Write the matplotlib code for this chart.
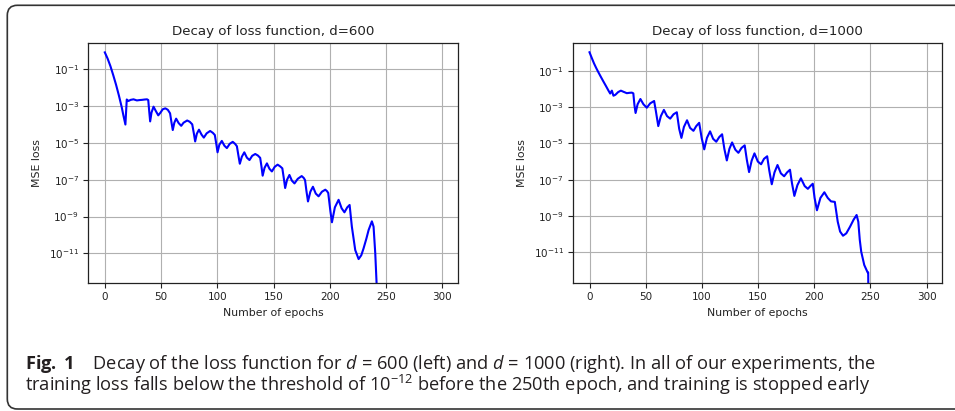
import numpy as np
import matplotlib
matplotlib.use("Agg")
import matplotlib.pyplot as plt
from matplotlib.patches import FancyBboxPatch
from matplotlib.ticker import FixedLocator, NullLocator

# ---------------- data (losses stored as log10) ----------------
epochs_d600 = [0, 2.5, 5, 7.5, 10, 12.5, 15, 16.5, 18.3, 19.5, 21, 23, 25.5, 28.5, 31, 33, 35.5, 37.5, 38.6,
               39.5, 40.3, 41.5, 43.3, 45.2, 47.5, 49.5, 51.5, 53.8, 56, 58, 59.3,
               60.4, 61.8, 63.4, 65.6, 67.9, 70, 73.2, 75.5, 77.7, 79.2,
               80.3, 81.8, 83.7, 86, 88, 90.5, 93.6, 96, 97.8, 99.2,
               100.2, 101.8, 104, 106.3, 108.5, 111, 113.7, 115.8, 117.4, 118.8,
               120, 121.8, 124, 126.3, 128.6, 131, 133.7, 136, 138.1, 139.3,
               140.3, 142, 144.1, 146.3, 148.5, 151, 153.6, 155.8, 157.8, 159.3,
               160.3, 162, 164.1, 166.3, 168.6, 171.5, 175, 176.8, 178, 179.2,
               180.6, 182.7, 185, 187.5, 190, 193, 196, 197.5, 198.6, 200.5,
               201.9, 204.5, 207.8, 210.5, 213, 215.5, 217.6, 219.6, 222.6, 225.6, 228, 230,
               232.5, 234.5, 237.4, 238.9, 240.4, 242]
log10_loss_d600 = [-0.08, -0.42, -0.83, -1.32, -1.84, -2.42, -3.05, -3.5, -4.0, -2.64, -2.72, -2.66, -2.63, -2.69, -2.67, -2.66, -2.64, -2.63, -2.67,
                   -3.3, -3.83, -3.35, -3.03, -3.25, -3.5, -3.35, -3.17, -3.12, -3.2, -3.39, -3.9,
                   -4.3, -3.9, -3.68, -3.92, -4.07, -3.9, -3.78, -3.85, -3.99, -4.5,
                   -4.92, -4.5, -4.28, -4.55, -4.71, -4.48, -4.35, -4.45, -4.57, -5.1,
                   -5.51, -5.1, -4.89, -5.15, -5.28, -5.05, -4.94, -5.05, -5.18, -5.7,
                   -6.13, -5.75, -5.51, -5.8, -5.93, -5.7, -5.6, -5.68, -5.81, -6.3,
                   -6.78, -6.35, -6.11, -6.4, -6.55, -6.3, -6.18, -6.27, -6.38, -7.0,
                   -7.45, -7.0, -6.74, -7.05, -7.2, -6.95, -6.8, -6.9, -7.02, -7.6,
                   -8.18, -7.65, -7.38, -7.75, -7.9, -7.65, -7.54, -7.62, -7.72, -8.7,
                   -9.31, -8.5, -8.09, -8.55, -8.77, -8.5, -8.37, -9.55, -10.82, -11.31, -11.1, -10.73,
                   -10.2, -9.73, -9.26, -9.55, -11.0, -13.2]

epochs_d1000 = [0, 2, 4, 6, 8, 10, 12.4, 14.5, 16.9, 18.4, 19.9, 21.3, 23, 25.5, 27.9, 30.5, 33.2, 35.5, 37.7, 39,
                40, 41, 42.8, 45.3, 48, 51, 54, 57.5, 59,
                61.2, 63.5, 66.2, 69, 71.8, 74.8, 77.7, 79.8,
                81.8, 84, 86.8, 89.5, 92.5, 95, 97.6, 99.8,
                102.1, 104.5, 107.3, 110, 112.8, 115.5, 118, 120,
                122.2, 124.5, 126.9, 129.8, 132.5, 135.3, 138.1, 140,
                142, 144.3, 146.8, 149.8, 152.7, 155.3, 158.1, 160,
                162.2, 164.6, 167.3, 170.3, 173.2, 175.8, 178.4, 180.2,
                182.3, 185, 188.1, 191.5, 194.3, 196.5, 198.7, 200.3,
                202.4, 205.5, 209, 212, 214.9, 218.3, 220.9, 223, 225.6, 228.5, 231.8, 235, 237.7,
                239.2, 240.5, 241.8, 244.5, 247.5, 248, 248.2]
log10_loss_d1000 = [0.01, -0.3, -0.6, -0.86, -1.1, -1.33, -1.6, -1.83, -2.1, -2.26, -2.1, -2.38, -2.33, -2.18, -2.1, -2.17, -2.24, -2.22, -2.21, -2.25,
                    -2.9, -3.33, -2.85, -2.56, -2.85, -3.04, -2.8, -2.67, -3.2,
                    -4.05, -3.5, -3.16, -3.5, -3.64, -3.4, -3.29, -4.2,
                    -4.7, -4.1, -3.73, -4.15, -4.31, -4.05, -3.87, -4.7,
                    -5.33, -4.7, -4.34, -4.75, -4.91, -4.65, -4.5, -5.3,
                    -5.94, -5.3, -4.95, -5.35, -5.52, -5.25, -5.11, -5.9,
                    -6.58, -5.95, -5.55, -6.0, -6.15, -5.85, -5.71, -6.5,
                    -7.25, -6.6, -6.19, -6.65, -6.81, -6.6, -6.45, -7.2,
                    -7.89, -7.3, -6.92, -7.35, -7.5, -7.35, -7.22, -8.0,
                    -8.68, -8.0, -7.69, -8.0, -8.19, -8.22, -9.31, -9.85, -10.08, -9.95, -9.59, -9.2, -8.94,
                    -9.31, -10.3, -10.96, -11.69, -12.1, -12.1, -13.5]

titles = ["Decay of loss function, d=600", "Decay of loss function, d=1000"]
xlabel = "Number of epochs"
ylabel = "MSE loss"
xtick_values = [0, 50, 100, 150, 200, 250, 300]
ytick_exponents = [-1, -3, -5, -7, -9, -11]
caption_tag = r"$\mathbf{Fig.\;1}\quad\,$"
caption_line1 = "Decay of the loss function for $d$ = 600 (left) and $d$ = 1000 (right). In all of our experiments, the"
caption_line2 = "training loss falls below the threshold of $10^{-12}$ before the 250th epoch, and training is stopped early"

# ---------------- figure ----------------
W, H = 955, 411
fig = plt.figure(figsize=(W / 100, H / 100), dpi=100)
fig.patch.set_facecolor("white")


def px_axes(x0, y0, x1, y1):
    return fig.add_axes([x0 / W, 1 - y1 / H, (x1 - x0) / W, (y1 - y0) / H])


ax1 = px_axes(88, 43, 458, 283)
ax2 = px_axes(572.7, 43, 942.3, 283)

series = [(ax1, epochs_d600, log10_loss_d600, (-12.61, 0.43)),
          (ax2, epochs_d1000, log10_loss_d1000, (-12.68, 0.52))]

txt_color = "#222222"
for (ax, ep, lg, (lo, hi)), title in zip(series, titles):
    ax.semilogy(ep, np.power(10.0, np.array(lg)), color="#0000ff", lw=1.5)
    ax.set_xlim(-14.95, 313.95)
    ax.set_ylim(10.0 ** lo, 10.0 ** hi)
    ax.yaxis.set_major_locator(FixedLocator([10.0 ** e for e in ytick_exponents]))
    ax.yaxis.set_minor_locator(NullLocator())
    ax.set_xticks(xtick_values)
    ax.grid(True, color="#b0b0b0", lw=0.8)
    ax.set_axisbelow(True)
    ax.set_title(title, fontsize=9.6, pad=6, color=txt_color)
    ax.set_xlabel(xlabel, fontsize=7.8, labelpad=4, color=txt_color)
    ax.set_ylabel(ylabel, fontsize=7.8, labelpad=5, color=txt_color)
    ax.tick_params(labelsize=7.5, length=3.5, width=0.8, pad=3, colors=txt_color)
    for s in ax.spines.values():
        s.set_linewidth(0.9)
        s.set_color(txt_color)

# ---------------- border ----------------
border = FancyBboxPatch((7.3, 2.0), W + 20, (H - 5.3) - 2.0,
                        boxstyle="round,pad=0,rounding_size=10",
                        transform=None, fill=False, ec="#333333", lw=1.2, clip_on=False)
fig.add_artist(border)

# ---------------- caption (one two-line text) ----------------
cap_font = "Open Sans"
plt.rcParams["mathtext.rm"] = cap_font
plt.rcParams["mathtext.it"] = cap_font + ":italic"
plt.rcParams["mathtext.bf"] = cap_font + ":bold"
plt.rcParams["mathtext.sf"] = cap_font
cap_color = "#231f20"
fs = 12.0
x0_px, base1_px, base2_px = 25.0, 369.5, 391.0
line1_end_px, line2_end_px = 858.0, 883.0

r = fig.canvas.get_renderer()
# pick a single font size that fits both lines' reference widths
probe1 = fig.text(0, 0, caption_tag + caption_line1, fontfamily=cap_font, fontsize=fs,
                  math_fontfamily="custom")
probe2 = fig.text(0, 0, caption_line2, fontfamily=cap_font, fontsize=fs,
                  math_fontfamily="custom")
sc1 = (line1_end_px - x0_px) / probe1.get_window_extent(r).width
sc2 = (line2_end_px - x0_px) / probe2.get_window_extent(r).width
fs = fs * 0.5 * (sc1 + sc2)
probe1.set_fontsize(fs)
h_one = probe1.get_window_extent(r).height
probe1.remove()
probe2.remove()

caption = caption_tag + caption_line1 + "\n" + caption_line2
lsp = 1.2
# va="baseline" anchors the baseline of the last line
cap = fig.text(x0_px / W, 1 - base2_px / H, caption, fontfamily=cap_font, fontsize=fs,
               va="baseline", ha="left", multialignment="left", color=cap_color,
               math_fontfamily="custom", linespacing=lsp)
target_gap = base2_px - base1_px
for _ in range(3):
    gap = cap.get_window_extent(r).height - h_one
    lsp = lsp * target_gap / gap
    cap.set_linespacing(lsp)

fig.savefig("out.png", dpi=100, facecolor="white")
